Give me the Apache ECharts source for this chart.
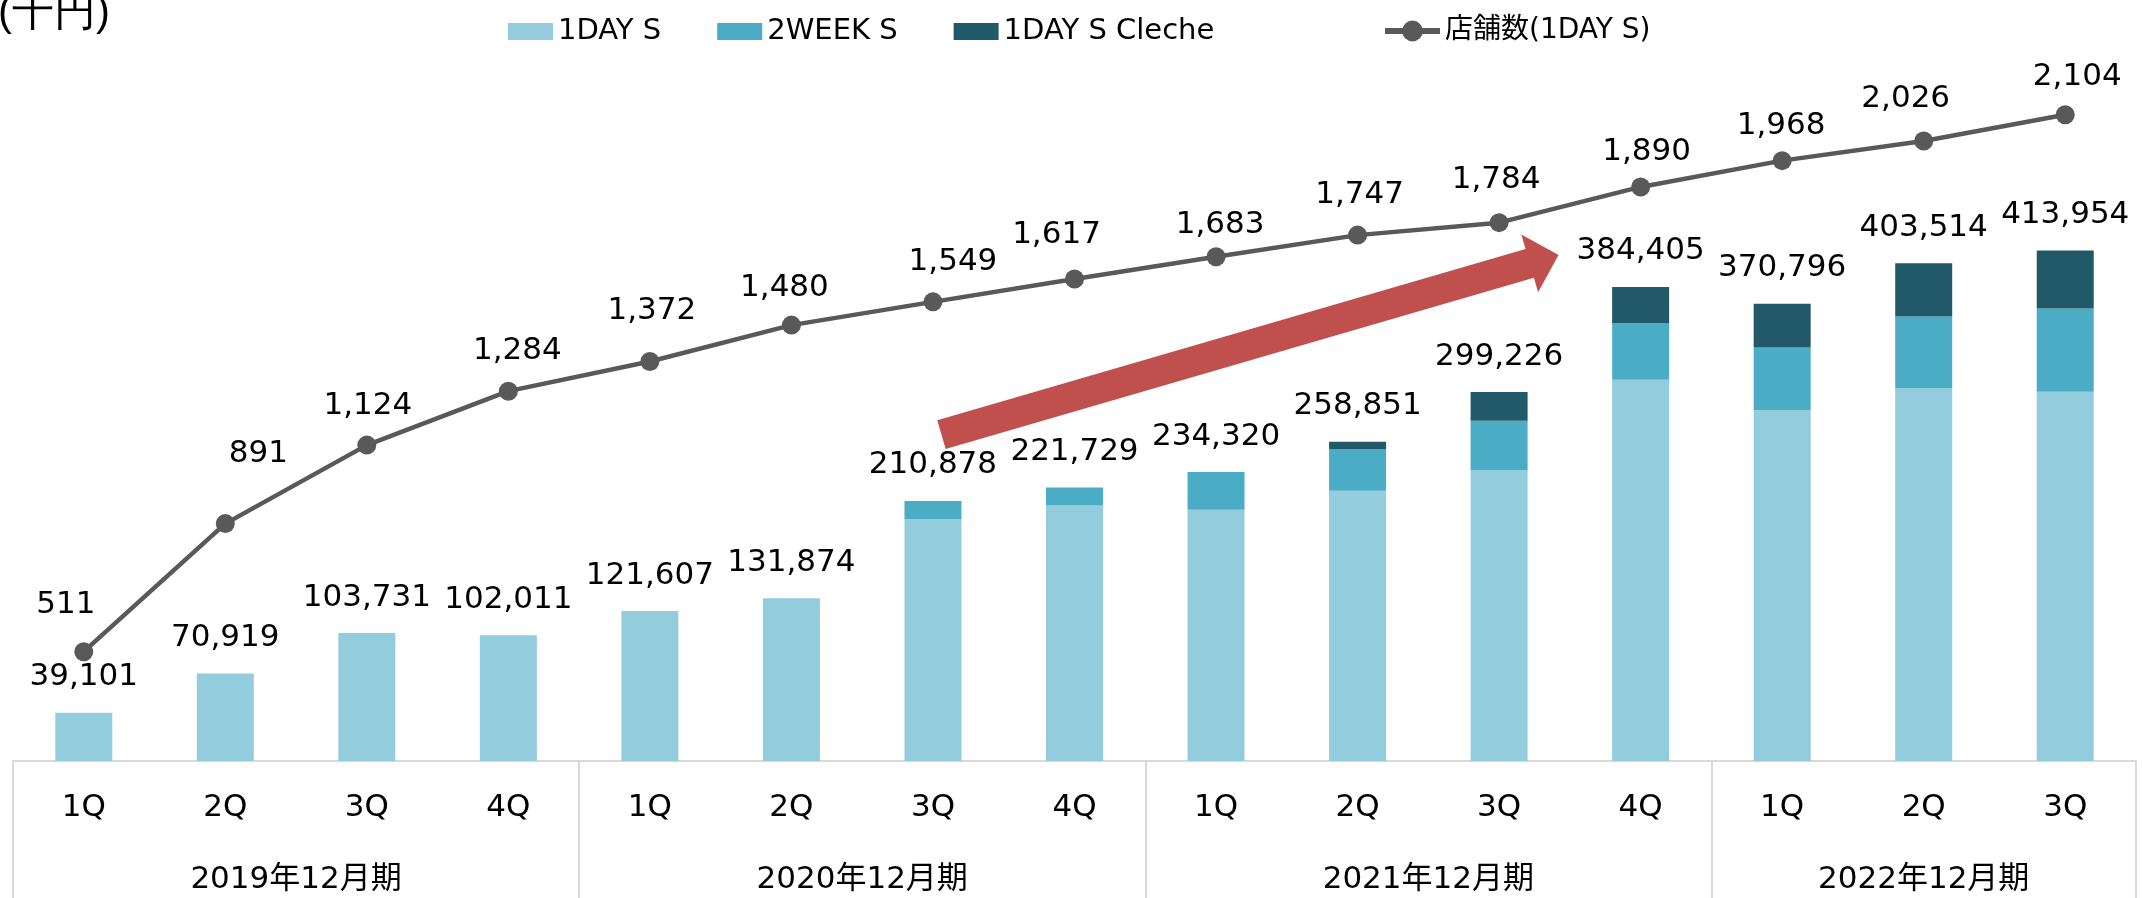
<!DOCTYPE html>
<html>
<head>
<meta charset="utf-8">
<style>
  html, body { margin: 0; padding: 0; background: #fff; }
  #chart { width: 2143px; height: 898px; }
</style>
<script src="https://cdn.jsdelivr.net/npm/echarts@6/dist/echarts.min.js"></script>
</head>
<body>
<div id="chart"></div>
<script>
// categories
const quarters = ['1Q', '2Q', '3Q', '4Q', '1Q', '2Q', '3Q', '4Q', '1Q', '2Q', '3Q', '4Q', '1Q', '2Q', '3Q']
const fiscalYears = ['2019年12月期', '2020年12月期', '2021年12月期', '2022年12月期']
const quartersPerYear = [4, 4, 4, 3]

// 売上 (千円)
const totals = [39101, 70919, 103731, 102011, 121607, 131874, 210878, 221729, 234320, 258851, 299226, 384405, 370796, 403514, 413954]
const oneDay = [39101, 70919, 103731, 102011, 121607, 131874, 196080, 207130, 203720, 219150, 235930, 309200, 284600, 302210, 299450]
const twoWeek = [null, null, null, null, null, null, 14800, 14600, 30600, 33800, 40000, 46000, 50700, 58200, 67400]
const cleche = [null, null, null, null, null, null, null, null, null, 5900, 23300, 29200, 35500, 43100, 47100]

// 店舗数
const stores = [511, 891, 1124, 1284, 1372, 1480, 1549, 1617, 1683, 1747, 1784, 1890, 1968, 2026, 2104]

// label nudges for the store count labels (dx, dy from the marker)
const storeLabelShift = [[-18, -47], [33, -70], [1, -39], [9, -40], [2, -51], [-7, -37], [20, -40], [-18, -44], [4, -32], [2, -40], [-3, -43], [6, -35], [-1, -35], [-18, -42], [12, -38]]

// red trend arrow, in (quarter position, 千円) space
const arrowTail = [6.56, 264700]
const arrowTip = [10.92, 410300]

const FONT = "'DejaVu Sans', 'Noto Sans CJK JP', sans-serif"
const fmt = (v) => Number(v).toLocaleString('en-US')

// year label positions: middle of each group
const groupEdges = [0]
quartersPerYear.forEach((n) => groupEdges.push(groupEdges[groupEdges.length - 1] + n))
const groupMids = fiscalYears.map((_, i) => (groupEdges[i] + groupEdges[i + 1]) / 2)

const chart = echarts.init(document.getElementById('chart'))

const unitText = {
  type: 'text',
  left: -2,
  top: -8,
  style: { text: '(千円)', fontSize: 42, fill: '#000', font: '42px ' + FONT }
}

const option = {
  animation: false,
  backgroundColor: '#fff',
  textStyle: { fontFamily: FONT },
  grid: {
    left: 13,
    right: 7,
    top: 21,
    bottom: 137,
    containLabel: false,
    outerBoundsMode: 'none'
  },
  legend: [
    {
      data: ['1DAY S', '2WEEK S', '1DAY S Cleche'],
      left: 503,
      top: 12,
      itemWidth: 45,
      itemHeight: 17,
      itemGap: 56,
      icon: 'rect',
      textStyle: { fontSize: 29, color: '#000', fontFamily: FONT }
    },
    {
      data: ['店舗数(1DAY S)'],
      left: 1377,
      top: 12,
      itemWidth: 55,
      itemHeight: 26,
      lineStyle: { width: 6 },
      textStyle: { fontSize: 28, color: '#000', fontFamily: FONT }
    }
  ],
  xAxis: [
    {
      type: 'category',
      data: quarters,
      position: 'bottom',
      axisLine: { lineStyle: { color: '#d9d9d9', width: 2 } },
      axisTick: { show: false },
      axisLabel: { fontSize: 31, color: '#000', margin: 31, fontFamily: FONT }
    },
    {
      type: 'value',
      min: 0,
      max: groupEdges[groupEdges.length - 1],
      position: 'bottom',
      axisLine: { show: false },
      splitLine: { show: false },
      axisTick: {
        show: true,
        customValues: groupEdges,
        length: 140,
        lineStyle: { color: '#d9d9d9', width: 2 }
      },
      axisLabel: {
        customValues: groupMids,
        fontSize: 31,
        color: '#000',
        margin: 103,
        fontFamily: FONT,
        formatter: (v) => {
          const i = groupMids.indexOf(v)
          return i >= 0 ? fiscalYears[i] : ''
        }
      }
    }
  ],
  yAxis: [
    { type: 'value', min: 0, max: 600000, show: false, splitLine: { show: false } },
    { type: 'value', min: 186.7, max: 2382.3, show: false, splitLine: { show: false } }
  ],
  series: [
    {
      name: '1DAY S',
      type: 'bar',
      stack: 'sales',
      barWidth: 57,
      data: oneDay,
      itemStyle: { color: '#93cddd' }
    },
    {
      name: '2WEEK S',
      type: 'bar',
      stack: 'sales',
      barWidth: 57,
      data: twoWeek,
      itemStyle: { color: '#4bacc6' }
    },
    {
      name: '1DAY S Cleche',
      type: 'bar',
      stack: 'sales',
      barWidth: 57,
      data: cleche,
      itemStyle: { color: '#215968' }
    },
    {
      // invisible bar only to carry the total label
      name: 'total',
      type: 'bar',
      barWidth: 57,
      barGap: '-100%',
      data: totals,
      silent: true,
      itemStyle: { color: 'rgba(0,0,0,0)' },
      label: {
        show: true,
        position: 'top',
        distance: 20,
        fontSize: 31,
        color: '#000',
        fontFamily: FONT,
        formatter: (p) => fmt(p.value)
      }
    },
    {
      name: '店舗数(1DAY S)',
      type: 'line',
      yAxisIndex: 1,
      data: stores.map((v, i) => ({ value: v, label: { offset: storeLabelShift[i] } })),
      symbol: 'circle',
      symbolSize: 19,
      z: 5,
      lineStyle: { color: '#595959', width: 4.5 },
      itemStyle: { color: '#595959' },
      label: {
        show: true,
        position: 'inside',
        fontSize: 31,
        color: '#000',
        fontFamily: FONT,
        formatter: (p) => fmt(p.value)
      }
    }
  ],
  graphic: [unitText]
}

chart.setOption(option)

// arrow drawn from the axis scales
function drawArrow () {
  const t = [chart.convertToPixel({ xAxisIndex: 1 }, arrowTail[0]), chart.convertToPixel({ yAxisIndex: 0 }, arrowTail[1])]
  const h = [chart.convertToPixel({ xAxisIndex: 1 }, arrowTip[0]), chart.convertToPixel({ yAxisIndex: 0 }, arrowTip[1])]
  const dx = h[0] - t[0]
  const dy = h[1] - t[1]
  const len = Math.sqrt(dx * dx + dy * dy)
  const ux = dx / len
  const uy = dy / len
  const nx = -uy
  const ny = ux
  const shaft = 15
  const head = 30
  const headLen = 30
  const bx = h[0] - ux * headLen
  const by = h[1] - uy * headLen
  const pts = [
    [t[0] + nx * shaft, t[1] + ny * shaft],
    [bx + nx * shaft, by + ny * shaft],
    [bx + nx * head, by + ny * head],
    [h[0], h[1]],
    [bx - nx * head, by - ny * head],
    [bx - nx * shaft, by - ny * shaft],
    [t[0] - nx * shaft, t[1] - ny * shaft]
  ]
  chart.setOption({
    graphic: [
      unitText,
      {
        type: 'polygon',
        shape: { points: pts },
        style: { fill: '#c0504d' },
        z: 10
      }
    ]
  })
}
drawArrow()
</script>
</body>
</html>
